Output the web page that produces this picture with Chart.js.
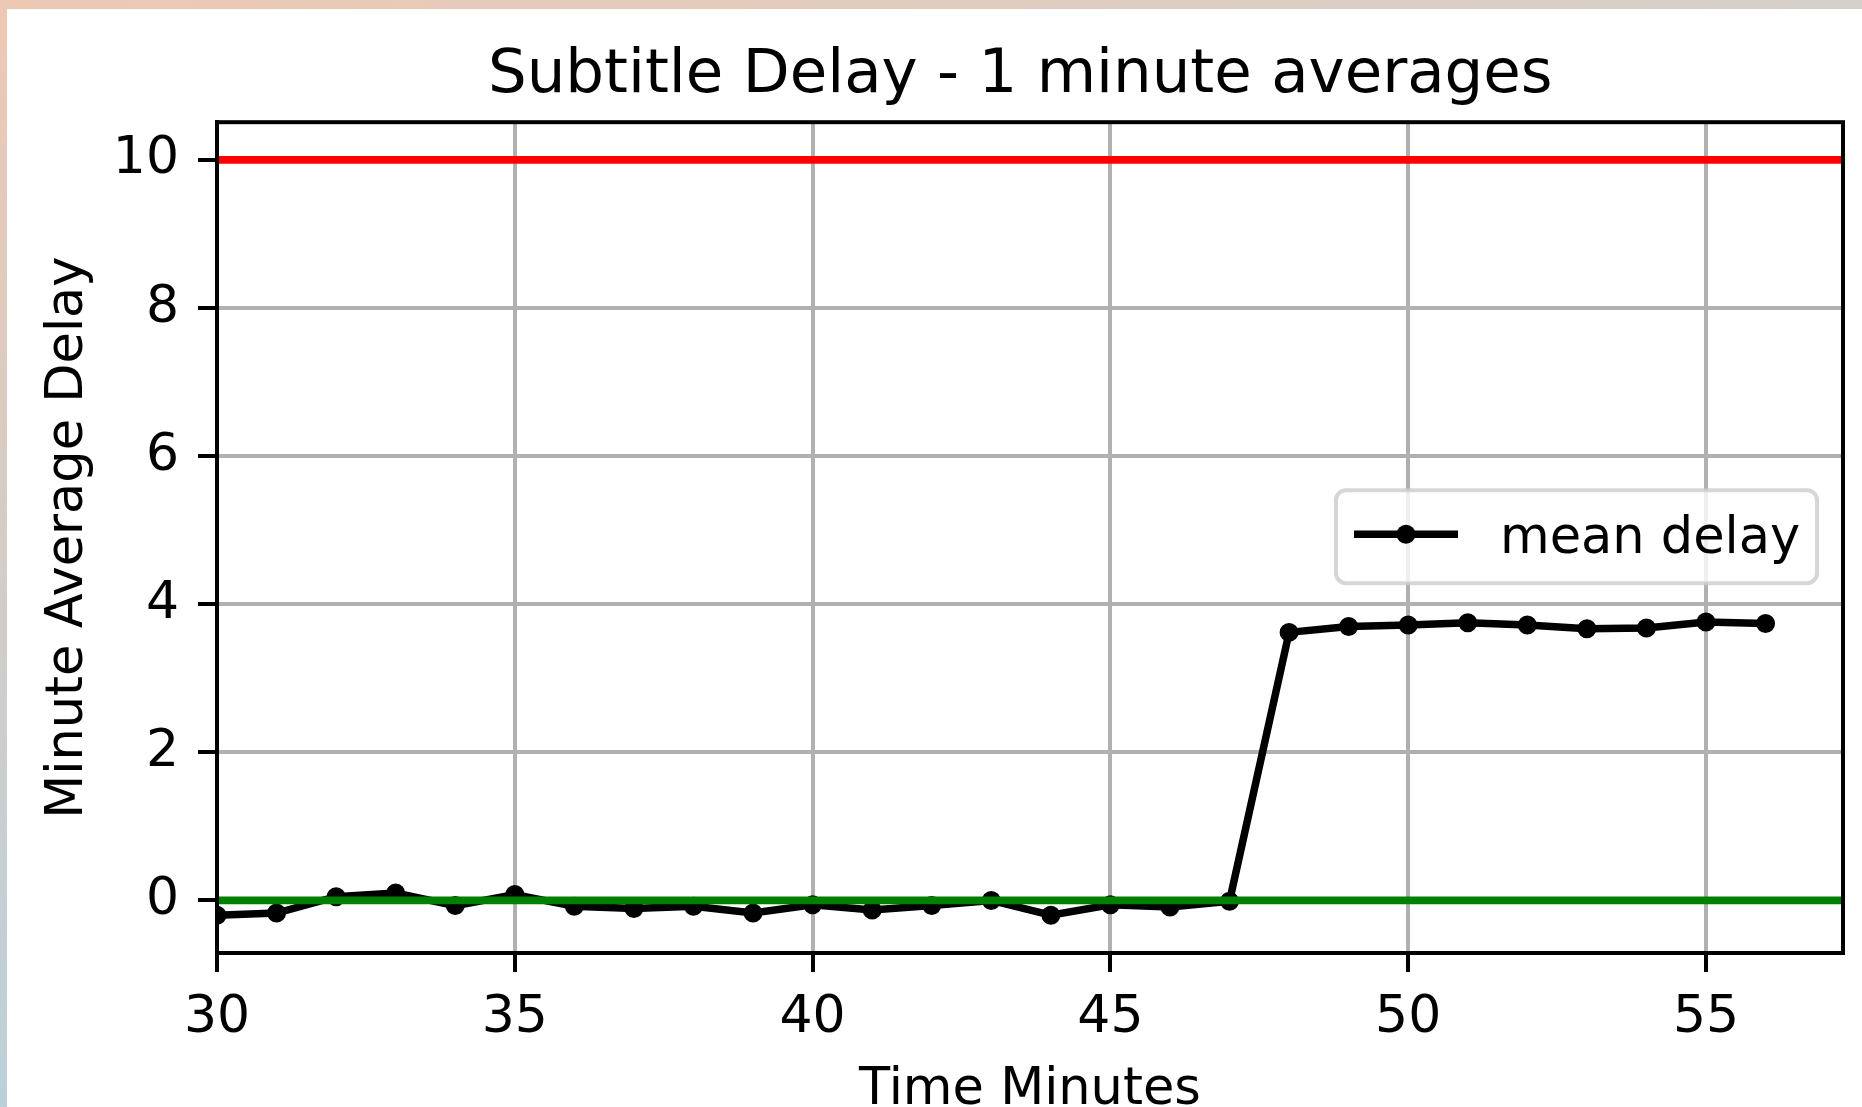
<!DOCTYPE html>
<html>
<head>
<meta charset="utf-8">
<script src="https://cdn.jsdelivr.net/npm/chart.js@4/dist/chart.umd.min.js"></script>
<style>
    html, body { margin: 0; padding: 0; background: #fff; overflow: hidden; }
    .edge-top { position: absolute; left: 0; top: 0; width: 1862px; height: 9px;
        background: linear-gradient(to right, #edc9b4, #d5d0ca); }
    .edge-left { position: absolute; left: 0; top: 0; width: 7px; height: 1107px;
        background: linear-gradient(to bottom, #edc9b4, #bcd0da); }
    #delayChart { position: absolute; left: 7px; top: 9px; background: #fff; }
</style>
</head>
<body>
<div class="edge-top"></div>
<div class="edge-left"></div>
<canvas id="delayChart" width="1855" height="1098"></canvas>
<script>
// minute index and the 1 minute average delay
const minutes = [30, 31, 32, 33, 34, 35, 36, 37, 38, 39, 40, 41, 42, 43, 44, 45, 46, 47, 48, 49, 50, 51, 52, 53, 54, 55, 56];
const meanDelay = [-0.20, -0.17, 0.05, 0.10, -0.07, 0.08, -0.08, -0.11, -0.08, -0.17, -0.06, -0.13, -0.07, 0.00, -0.20, -0.06, -0.09, -0.01,
    3.62, 3.70, 3.72, 3.75, 3.72, 3.67, 3.68, 3.76, 3.74];
const xTicks = [30, 35, 40, 45, 50, 55];
const yTicks = [0, 2, 4, 6, 8, 10];
const limitLine = 10;   // red
const zeroLine = 0;     // green

document.addEventListener("DOMContentLoaded", function () {
    const ctx = document.getElementById("delayChart").getContext("2d");
    Chart.defaults.font.family = "'DejaVu Sans', sans-serif";
    Chart.defaults.color = '#000';

    // horizontal reference lines, drawn on top of the data like axhline
    const refLines = {
        id: 'refLines',
        afterDatasetsDraw(chart) {
            const { ctx, chartArea, scales } = chart;
            const lines = [[zeroLine, '#008000'], [limitLine, '#ff0000']];
            ctx.save();
            ctx.lineWidth = 7.8;
            lines.forEach(function (l) {
                const y = scales.y.getPixelForValue(l[0]);
                ctx.strokeStyle = l[1];
                ctx.beginPath();
                ctx.moveTo(chartArea.left, y);
                ctx.lineTo(chartArea.right, y);
                ctx.stroke();
            });
            // axes frame
            ctx.strokeStyle = '#000';
            ctx.lineWidth = 4;
            ctx.strokeRect(chartArea.left, chartArea.top, chartArea.right - chartArea.left, chartArea.bottom - chartArea.top);
            ctx.restore();
        }
    };

    // legend box inside the plot, like matplotlib
    const boxLegend = {
        id: 'boxLegend',
        afterDraw(chart) {
            const { ctx, chartArea } = chart;
            const ds = chart.data.datasets[0];
            const w = 481, h = 93;
            const x = chartArea.right - 26 - w;
            const y = chartArea.top + 368;
            ctx.save();
            ctx.beginPath();
            ctx.roundRect(x, y, w, h, 10);
            ctx.fillStyle = 'rgba(255,255,255,0.8)';
            ctx.fill();
            ctx.strokeStyle = 'rgba(204,204,204,0.8)';
            ctx.lineWidth = 4;
            ctx.stroke();

            ctx.strokeStyle = ds.borderColor;
            ctx.lineWidth = ds.borderWidth;
            ctx.beginPath();
            ctx.moveTo(x + 18, y + 44);
            ctx.lineTo(x + 122, y + 44);
            ctx.stroke();
            ctx.beginPath();
            ctx.arc(x + 70, y + 44, 9.5, 0, Math.PI * 2);
            ctx.fillStyle = ds.borderColor;
            ctx.fill();

            ctx.font = "51px 'DejaVu Sans'";
            ctx.textBaseline = 'alphabetic';
            ctx.textAlign = 'left';
            ctx.fillText(ds.label, x + 164, y + 63);
            ctx.restore();
        }
    };

    new Chart(ctx, {
        type: 'line',
        data: {
            datasets: [{
                label: 'mean delay',
                data: minutes.map((m, i) => ({ x: m, y: meanDelay[i] })),
                borderColor: '#000',
                backgroundColor: '#000',
                borderWidth: 7.5,
                pointRadius: 8.5,
                pointBorderWidth: 2,
                pointHoverRadius: 8.5,
                tension: 0,
                clip: 0
            }]
        },
        options: {
            responsive: false,
            devicePixelRatio: 1,
            animation: false,
            layout: { padding: { left: 0, top: 0, right: 19, bottom: 0 } },
            scales: {
                x: {
                    type: 'linear',
                    min: 30,
                    max: 57.3,
                    afterBuildTicks: s => { s.ticks = xTicks.map(v => ({ value: v })); },
                    afterFit: s => { s.height = 154; },
                    ticks: { font: { size: 52 }, padding: 15, maxRotation: 0 },
                    grid: { color: '#b0b0b0', lineWidth: 4, tickColor: '#000', tickWidth: 4, tickLength: 19 },
                    border: { display: true, color: '#000', width: 4 },
                    title: { display: true, text: 'Time Minutes', font: { size: 51 }, padding: { top: 0, bottom: -14 } }
                },
                y: {
                    type: 'linear',
                    min: -0.71,
                    max: 10.51,
                    afterBuildTicks: s => { s.ticks = yTicks.map(v => ({ value: v })); },
                    afterFit: s => { s.width = 210; },
                    ticks: { font: { size: 52 }, padding: 19 },
                    grid: { color: '#b0b0b0', lineWidth: 4, tickColor: '#000', tickWidth: 4, tickLength: 19 },
                    border: { display: true, color: '#000', width: 4 },
                    title: { display: true, text: 'Minute Average Delay', font: { size: 51 }, padding: { top: 31, bottom: 0 } }
                }
            },
            plugins: {
                legend: { display: false },
                tooltip: { enabled: false },
                title: {
                    display: true,
                    text: 'Subtitle Delay - 1 minute averages ',
                    font: { size: 61, weight: 'normal' },
                    color: '#000',
                    fullSize: false,
                    padding: { top: 31, bottom: 9 }
                }
            }
        },
        plugins: [refLines, boxLegend]
    });
});
</script>
</body>
</html>
